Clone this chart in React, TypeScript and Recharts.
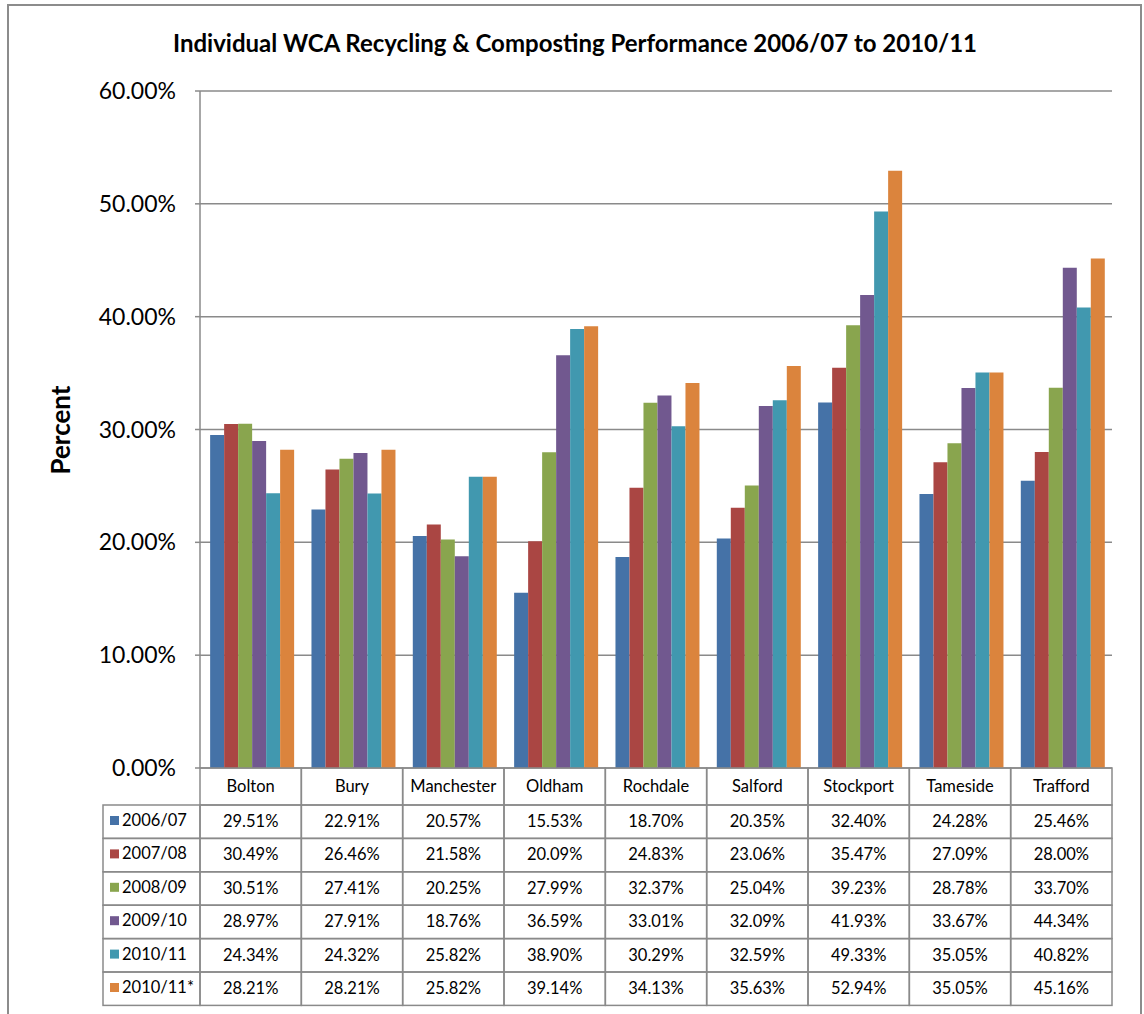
import { BarChart, Bar, XAxis, YAxis, CartesianGrid } from 'recharts';

const categories = ['Bolton', 'Bury', 'Manchester', 'Oldham', 'Rochdale', 'Salford', 'Stockport', 'Tameside', 'Trafford'];
const seriesNames = ['2006/07', '2007/08', '2008/09', '2009/10', '2010/11', '2010/11*'];
const colors = ['#4572A7', '#AA4643', '#89A54E', '#71588F', '#4198AF', '#DB843D'];

const y0607 = [29.51, 22.91, 20.57, 15.53, 18.7, 20.35, 32.4, 24.28, 25.46];
const y0708 = [30.49, 26.46, 21.58, 20.09, 24.83, 23.06, 35.47, 27.09, 28.0];
const y0809 = [30.51, 27.41, 20.25, 27.99, 32.37, 25.04, 39.23, 28.78, 33.7];
const y0910 = [28.97, 27.91, 18.76, 36.59, 33.01, 32.09, 41.93, 33.67, 44.34];
const y1011 = [24.34, 24.32, 25.82, 38.9, 30.29, 32.59, 49.33, 35.05, 40.82];
const y1011b = [28.21, 28.21, 25.82, 39.14, 34.13, 35.63, 52.94, 35.05, 45.16];
const yTicks = [0, 10, 20, 30, 40, 50, 60];

const seriesValues = [y0607, y0708, y0809, y0910, y1011, y1011b];

const data = categories.map((name, i) => {
  const row: any = { name };
  seriesNames.forEach((s, j) => {
    row[s] = seriesValues[j][i];
  });
  return row;
});

const W = 1144;
const H = 1014;
const PLOT_LEFT = 200;
const PLOT_RIGHT = 1112;
const PLOT_TOP = 91;
const PLOT_BOTTOM = 768;
const HEADER_H = 37;
const ROW_H = 33.4;
const LEGEND_LEFT = 103;
const LINE = '#8a8a8a';
const FONT = 'Lato, "Open Sans", sans-serif';
const CELL_FONT = 16.5;

const bandW = (PLOT_RIGHT - PLOT_LEFT) / categories.length;

const TableTick = (props: any) => {
  const { x, payload, index } = props;
  const left = x - bandW / 2;
  const rowsTop = PLOT_BOTTOM + HEADER_H;
  return (
    <g>
      <rect x={left} y={PLOT_BOTTOM} width={bandW} height={HEADER_H} fill="none" stroke={LINE} strokeWidth={1.5} />
      <text x={x} y={PLOT_BOTTOM + 24} textAnchor="middle" fontSize={CELL_FONT} fill="#000" fontFamily={FONT}>
        {payload.value}
      </text>
      {seriesValues.map((vals, j) => (
        <g key={j}>
          <rect x={left} y={rowsTop + j * ROW_H} width={bandW} height={ROW_H} fill="none" stroke={LINE} strokeWidth={1.5} />
          <text x={x} y={rowsTop + j * ROW_H + 22} textAnchor="middle" fontSize={CELL_FONT} fill="#000" fontFamily={FONT}>
            {vals[index].toFixed(2) + '%'}
          </text>
        </g>
      ))}
      {index === 0 &&
        seriesNames.map((s, j) => (
          <g key={s}>
            <rect
              x={LEGEND_LEFT}
              y={rowsTop + j * ROW_H}
              width={left - LEGEND_LEFT}
              height={ROW_H}
              fill="none"
              stroke={LINE}
              strokeWidth={1.5}
            />
            <rect x={LEGEND_LEFT + 7} y={rowsTop + j * ROW_H + 11} width={9} height={9} fill={colors[j]} />
            <text x={LEGEND_LEFT + 19} y={rowsTop + j * ROW_H + 21} fontSize={CELL_FONT} fill="#000" fontFamily={FONT}>
              {s}
            </text>
          </g>
        ))}
    </g>
  );
};

export default function App() {
  return (
    <div style={{ position: 'absolute', left: 0, top: 0, width: W, height: H, background: '#fff', overflow: 'hidden' }}>
      <div
        style={{
          position: 'absolute',
          left: 7,
          top: 4,
          width: 1131,
          height: H + 20,
          border: '2px solid #8c8c8c',
        }}
      />
      <div
        style={{
          position: 'absolute',
          left: 0,
          top: 28,
          width: 1150,
          textAlign: 'center',
          fontFamily: FONT,
          fontWeight: 'bold',
          fontSize: 24,
          color: '#000',
        }}
      >
        Individual WCA Recycling &amp; Composting Performance 2006/07 to 2010/11
      </div>
      <div
        style={{
          position: 'absolute',
          left: 60,
          top: 430,
          transform: 'translate(-50%, -50%) rotate(-90deg)',
          fontFamily: FONT,
          fontWeight: 'bold',
          fontSize: 26,
          color: '#000',
        }}
      >
        Percent
      </div>
      <div style={{ position: 'absolute', left: 0, top: 0 }}>
        <BarChart
          width={W}
          height={H}
          data={data}
          margin={{ top: PLOT_TOP, right: W - PLOT_RIGHT, left: 80, bottom: 8 }}
          barCategoryGap="10%"
          barGap={0}
        >
          <CartesianGrid vertical={false} stroke={LINE} strokeWidth={1.5} />
          <XAxis
            dataKey="name"
            height={H - PLOT_BOTTOM - 8}
            interval={0}
            axisLine={false}
            tickLine={false}
            tick={<TableTick />}
          />
          <YAxis
            width={PLOT_LEFT - 80}
            domain={[0, 60]}
            ticks={yTicks}
            tickFormatter={(v: number) => v.toFixed(2) + '%'}
            tick={{ fontSize: 23, fill: '#000', fontFamily: FONT }}
            axisLine={{ stroke: LINE, strokeWidth: 1.5 }}
            tickLine={{ stroke: LINE, strokeWidth: 1.5 }}
            tickSize={5}
            tickMargin={19}
          />
          {seriesNames.map((s, j) => (
            <Bar key={s} dataKey={s} fill={colors[j]} isAnimationActive={false} />
          ))}
        </BarChart>
      </div>
    </div>
  );
}
